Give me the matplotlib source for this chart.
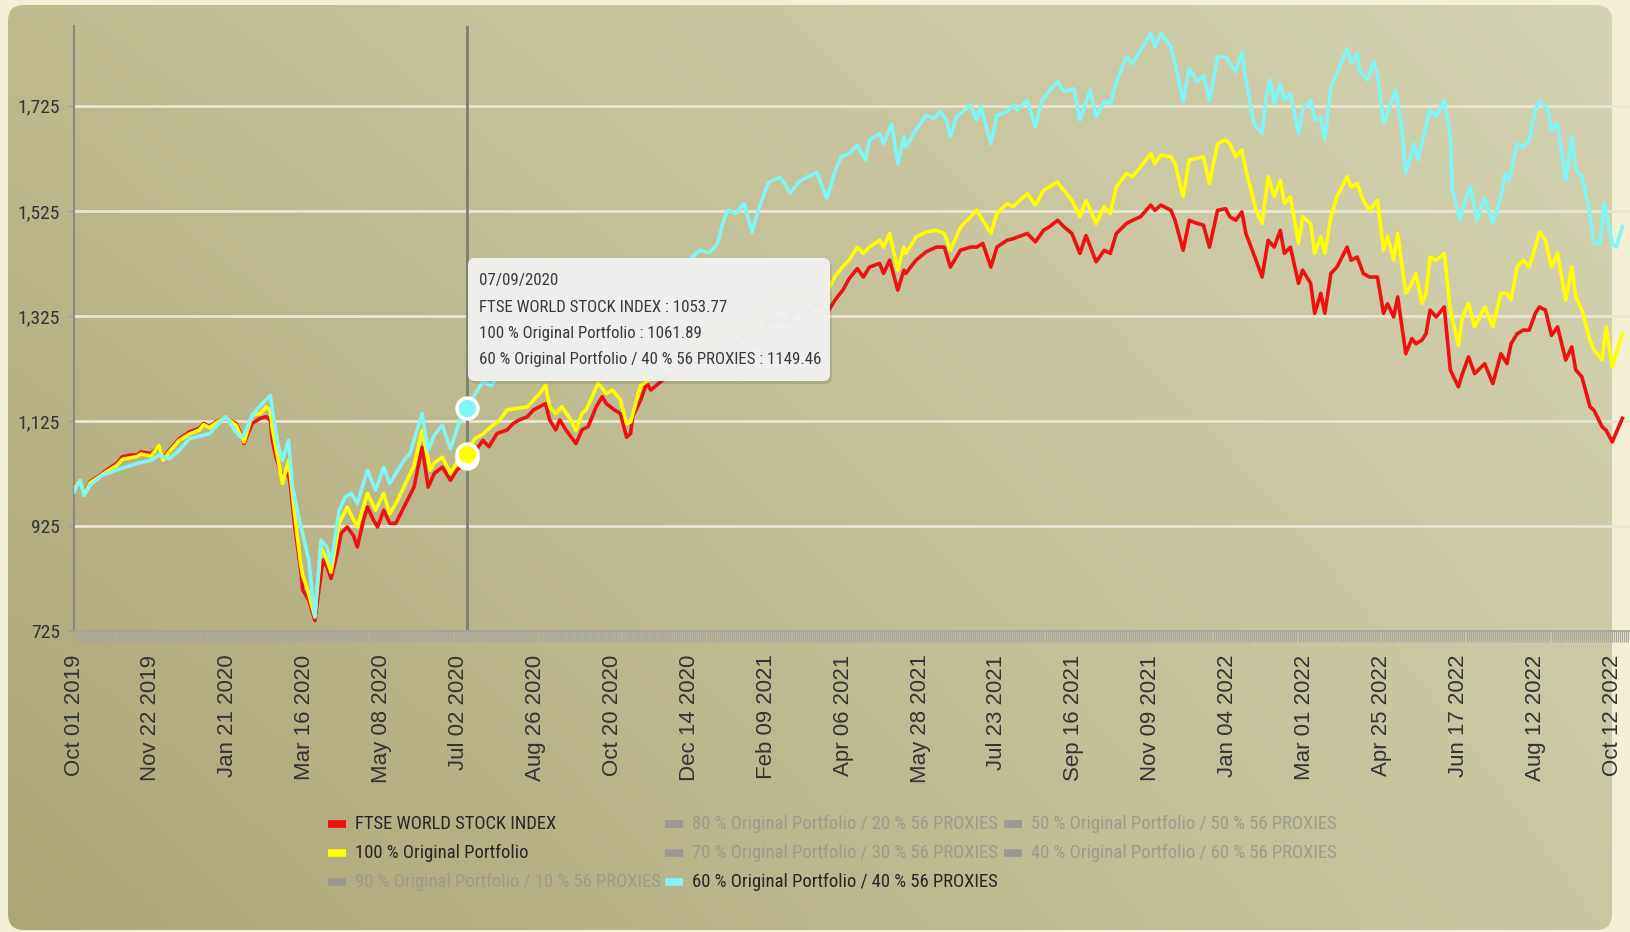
import numpy as np
import matplotlib
matplotlib.use("Agg")
import matplotlib.pyplot as plt
from matplotlib import font_manager
from matplotlib.patches import FancyBboxPatch
from matplotlib.ticker import MultipleLocator, FixedLocator, FixedFormatter

# ---------------- data ----------------
date_labels = ["Oct 01 2019", "Nov 22 2019", "Jan 21 2020", "Mar 16 2020", "May 08 2020",
               "Jul 02 2020", "Aug 26 2020", "Oct 20 2020", "Dec 14 2020", "Feb 09 2021",
               "Apr 06 2021", "May 28 2021", "Jul 23 2021", "Sep 16 2021", "Nov 09 2021",
               "Jan 04 2022", "Mar 01 2022", "Apr 25 2022", "Jun 17 2022", "Aug 12 2022",
               "Oct 12 2022"]
label_step = 38          # trading days between labelled dates
y_ticks = [725, 925, 1125, 1325, 1525, 1725]

# FTSE WORLD STOCK INDEX (trading-day index, value)
ftse_x = [0, 3, 5, 8, 13, 16, 21, 24, 28, 31, 33, 38, 42, 44, 47, 52, 57, 62, 64, 67,
          70, 75, 80, 82, 84, 88, 92, 95, 97, 98, 100, 103, 106, 107, 109, 112, 113, 116, 119, 121,
          123, 125, 127, 130, 132, 135, 138, 140, 143, 145, 148, 150, 153, 156, 159, 163, 168, 172, 175, 178,
          182, 186, 189, 191, 194, 198, 202, 205, 209, 214, 217, 220, 224, 227, 230, 233, 235, 238, 240, 243,
          248, 251, 254, 258, 261, 263, 267, 270, 273, 275, 276, 280, 283, 285, 290, 295, 300, 305, 310, 315,
          320, 324, 328, 332, 336, 339, 343, 348, 352, 356, 360, 364, 368, 372, 376, 380, 383, 387, 390, 393,
          398, 400, 403, 407, 410, 411, 416, 421, 426, 430, 433, 438, 443, 446, 449, 453, 456, 461, 464, 471,
          475, 479, 482, 486, 489, 493, 497, 500, 505, 509, 512, 515, 520, 523, 527, 532, 534, 537, 542, 544,
          548, 551, 555, 558, 561, 565, 569, 571, 574, 577, 579, 584, 587, 590, 593, 596, 598, 601, 605, 607,
          611, 613, 616, 618, 621, 624, 629, 631, 634, 637, 640, 644, 647, 649, 652, 654, 658, 661, 663, 666,
          668, 670, 673, 677, 680, 684, 686, 689, 692, 697, 701, 705, 708, 710, 713, 716, 719, 722, 724, 727,
          730, 733, 737, 740, 742, 745, 749, 751, 755, 757, 760, 765]
ftse_y = [995, 1012, 987, 1009, 1022, 1031, 1044, 1057, 1060, 1060, 1066, 1063, 1076, 1053, 1069, 1091, 1104, 1111, 1120, 1114,
          1123, 1130, 1120, 1104, 1082, 1120, 1130, 1133, 1126, 1088, 1053, 1018, 1025, 999, 926, 841, 803, 784, 745, 803,
          860, 847, 825, 872, 911, 923, 907, 885, 936, 961, 936, 923, 955, 930, 930, 961, 999, 1075, 999, 1025,
          1037, 1012, 1031, 1037, 1054, 1066, 1088, 1076, 1101, 1108, 1120, 1127, 1133, 1146, 1152, 1158, 1127, 1108, 1127, 1108,
          1082, 1108, 1114, 1152, 1171, 1158, 1146, 1139, 1094, 1101, 1133, 1165, 1197, 1184, 1200, 1215, 1225, 1240, 1232, 1255,
          1270, 1285, 1275, 1290, 1265, 1285, 1310, 1320, 1310, 1330, 1340, 1335, 1350, 1330, 1355, 1375, 1396, 1415, 1399, 1418,
          1425, 1406, 1431, 1374, 1412, 1406, 1431, 1447, 1456, 1456, 1418, 1450, 1456, 1456, 1463, 1418, 1456, 1469, 1472, 1482,
          1466, 1488, 1495, 1507, 1495, 1482, 1444, 1478, 1428, 1450, 1444, 1482, 1501, 1507, 1514, 1536, 1526, 1536, 1526, 1507,
          1450, 1507, 1501, 1498, 1456, 1526, 1529, 1514, 1507, 1523, 1482, 1431, 1399, 1469, 1456, 1488, 1444, 1456, 1387, 1412,
          1387, 1330, 1368, 1330, 1406, 1418, 1456, 1431, 1437, 1406, 1399, 1399, 1330, 1348, 1323, 1361, 1253, 1282, 1272, 1279,
          1291, 1336, 1323, 1342, 1222, 1190, 1215, 1247, 1215, 1234, 1196, 1253, 1234, 1272, 1291, 1298, 1298, 1330, 1342, 1336,
          1288, 1304, 1241, 1266, 1222, 1209, 1152, 1145, 1114, 1107, 1085, 1130]

# 100 % Original Portfolio
orig_x = [0, 3, 5, 8, 13, 16, 21, 24, 28, 31, 33, 38, 42, 44, 47, 52, 57, 62, 64, 67,
          70, 75, 80, 82, 84, 88, 92, 95, 97, 98, 100, 103, 106, 107, 109, 112, 113, 115, 119, 122,
          125, 127, 131, 135, 140, 145, 149, 153, 156, 160, 163, 168, 172, 176, 178, 182, 186, 189, 191, 194,
          198, 202, 206, 210, 214, 219, 224, 230, 233, 235, 238, 241, 245, 248, 251, 253, 256, 259, 263, 266,
          270, 273, 275, 278, 280, 283, 290, 295, 300, 305, 310, 315, 320, 324, 328, 332, 336, 339, 343, 348,
          352, 356, 360, 364, 368, 372, 376, 380, 383, 387, 390, 393, 398, 400, 403, 407, 410, 411, 416, 421,
          426, 430, 433, 438, 443, 446, 449, 453, 456, 461, 464, 471, 475, 479, 482, 486, 489, 493, 497, 500,
          505, 509, 512, 515, 520, 523, 527, 532, 534, 537, 542, 544, 548, 551, 555, 558, 561, 565, 569, 571,
          574, 577, 579, 584, 587, 590, 593, 596, 598, 601, 605, 607, 611, 613, 616, 618, 621, 624, 629, 631,
          634, 637, 640, 644, 647, 649, 652, 654, 658, 661, 663, 666, 668, 670, 673, 677, 680, 684, 686, 689,
          692, 697, 701, 705, 708, 710, 713, 716, 719, 722, 724, 727, 730, 733, 737, 740, 742, 745, 749, 751,
          755, 757, 760, 765]
orig_y = [995, 1012, 985, 1007, 1020, 1028, 1040, 1052, 1055, 1057, 1062, 1058, 1078, 1050, 1066, 1088, 1100, 1108, 1118, 1112,
          1121, 1131, 1117, 1100, 1085, 1136, 1139, 1152, 1145, 1110, 1069, 1006, 1050, 1020, 948, 853, 830, 809, 752, 885,
          860, 837, 930, 961, 923, 987, 955, 987, 948, 975, 999, 1040, 1107, 1031, 1045, 1056, 1025, 1045, 1056, 1062,
          1091, 1100, 1114, 1125, 1146, 1149, 1152, 1177, 1193, 1152, 1139, 1152, 1130, 1107, 1139, 1146, 1171, 1197, 1177, 1184,
          1165, 1120, 1123, 1165, 1193, 1200, 1220, 1235, 1250, 1268, 1260, 1285, 1300, 1318, 1305, 1322, 1295, 1318, 1345, 1355,
          1345, 1365, 1378, 1372, 1390, 1370, 1400, 1420, 1431, 1456, 1444, 1456, 1469, 1456, 1482, 1412, 1456, 1444, 1475, 1485,
          1488, 1482, 1450, 1494, 1514, 1526, 1507, 1482, 1520, 1539, 1533, 1558, 1536, 1564, 1571, 1580, 1564, 1545, 1514, 1545,
          1501, 1533, 1520, 1571, 1596, 1590, 1609, 1634, 1615, 1631, 1628, 1615, 1552, 1622, 1625, 1628, 1577, 1653, 1660, 1653,
          1628, 1641, 1603, 1526, 1501, 1590, 1552, 1583, 1539, 1552, 1463, 1514, 1501, 1444, 1476, 1444, 1514, 1552, 1590, 1571,
          1577, 1545, 1526, 1545, 1450, 1476, 1431, 1482, 1368, 1387, 1406, 1349, 1368, 1437, 1431, 1444, 1336, 1269, 1323, 1349,
          1304, 1342, 1304, 1368, 1368, 1355, 1418, 1431, 1418, 1456, 1485, 1469, 1418, 1444, 1355, 1418, 1361, 1336, 1279, 1260,
          1241, 1304, 1228, 1291]

# 60 % Original Portfolio / 40 % 56 PROXIES
mix_x = [0, 3, 5, 8, 14, 23, 31, 38, 42, 47, 52, 57, 64, 67, 70, 75, 80, 82, 84, 88,
         93, 97, 98, 101, 103, 106, 108, 111, 113, 116, 119, 122, 125, 127, 131, 134, 137, 140, 145, 149,
         153, 156, 163, 166, 172, 175, 178, 182, 186, 191, 194, 198, 202, 206, 214, 220, 227, 233, 236, 240,
         243, 248, 252, 258, 262, 267, 271, 274, 278, 283, 288, 293, 298, 304, 309, 314, 318, 321, 323, 327,
         331, 335, 338, 343, 349, 354, 358, 362, 367, 372, 376, 379, 383, 387, 391, 393, 398, 400, 404, 407,
         410, 411, 416, 421, 425, 428, 431, 433, 436, 441, 443, 446, 448, 453, 456, 461, 464, 466, 471, 475,
         478, 482, 486, 489, 494, 497, 499, 502, 505, 509, 512, 515, 520, 523, 527, 532, 534, 537, 542, 544,
         548, 551, 555, 558, 561, 565, 569, 571, 574, 577, 579, 583, 587, 589, 591, 593, 596, 598, 601, 605,
         607, 611, 613, 616, 618, 621, 624, 629, 631, 634, 635, 639, 642, 644, 647, 650, 653, 656, 658, 662,
         664, 667, 670, 673, 677, 680, 681, 685, 686, 690, 693, 697, 701, 705, 707, 709, 713, 716, 719, 722,
         724, 728, 730, 733, 737, 740, 742, 745, 749, 751, 754, 756, 760, 762, 765]
mix_y = [990, 1012, 983, 1003, 1022, 1034, 1044, 1050, 1060, 1053, 1069, 1091, 1098, 1101, 1114, 1133, 1104, 1095, 1098, 1136,
         1158, 1174, 1145, 1076, 1050, 1088, 999, 942, 910, 860, 752, 898, 885, 853, 955, 980, 987, 968, 1031, 993,
         1037, 1006, 1050, 1063, 1139, 1069, 1098, 1117, 1072, 1130, 1149, 1175, 1200, 1192, 1230, 1245, 1265, 1285, 1255, 1262,
         1245, 1220, 1250, 1290, 1300, 1290, 1280, 1250, 1300, 1350, 1370, 1385, 1410, 1431, 1450, 1445, 1463, 1507, 1526, 1520,
         1539, 1485, 1525, 1579, 1589, 1559, 1580, 1589, 1598, 1549, 1600, 1628, 1634, 1650, 1622, 1660, 1672, 1653, 1691, 1615,
         1666, 1647, 1679, 1707, 1701, 1714, 1698, 1666, 1704, 1720, 1726, 1698, 1723, 1653, 1707, 1714, 1726, 1717, 1736, 1685,
         1733, 1755, 1771, 1752, 1758, 1698, 1720, 1755, 1704, 1733, 1729, 1771, 1818, 1806, 1831, 1863, 1837, 1863, 1837, 1806,
         1733, 1796, 1771, 1783, 1736, 1818, 1818, 1806, 1790, 1828, 1774, 1691, 1672, 1742, 1774, 1729, 1767, 1736, 1749, 1672,
         1717, 1736, 1698, 1704, 1660, 1761, 1787, 1834, 1806, 1825, 1793, 1774, 1809, 1787, 1691, 1723, 1755, 1685, 1596, 1653,
         1622, 1672, 1717, 1704, 1736, 1666, 1565, 1507, 1529, 1571, 1507, 1549, 1501, 1552, 1596, 1583, 1653, 1647, 1660, 1717,
         1733, 1720, 1679, 1691, 1583, 1666, 1603, 1590, 1520, 1463, 1463, 1539, 1463, 1456, 1495]

series_names = ["FTSE WORLD STOCK INDEX", "100 % Original Portfolio",
                "60 % Original Portfolio / 40 % 56 PROXIES"]
series_colors = ["#ee1111", "#ffff00", "#80f6f6"]

hover_index = 194
hover_date = "07/09/2020"
hover_values = [1053.77, 1061.89, 1149.46]

legend_labels = ["FTSE WORLD STOCK INDEX", "100 % Original Portfolio",
                 "90 % Original Portfolio / 10 % 56 PROXIES",
                 "80 % Original Portfolio / 20 % 56 PROXIES",
                 "70 % Original Portfolio / 30 % 56 PROXIES",
                 "60 % Original Portfolio / 40 % 56 PROXIES",
                 "50 % Original Portfolio / 50 % 56 PROXIES",
                 "40 % Original Portfolio / 60 % 56 PROXIES"]
legend_colors = ["#ee1111", "#ffff00", None, None, None, "#80f6f6", None, None]

# ---------------- fonts ----------------
avail = {f.name for f in font_manager.fontManager.ttflist}
def pick(cands):
    for c in cands:
        if c in avail:
            return c
    return "DejaVu Sans"
NARROW = pick(["Liberation Sans Narrow", "Roboto Condensed", "Open Sans Condensed",
               "DejaVu Sans Condensed", "Liberation Sans"])
REGULAR = pick(["Liberation Sans", "Arimo", "DejaVu Sans"])
narrow_scale = 1.0 if NARROW in ("Liberation Sans Narrow", "Roboto Condensed",
                                 "Open Sans Condensed", "DejaVu Sans Condensed") else 0.85

# ---------------- figure ----------------
W, H = 1630, 932
fig = plt.figure(figsize=(W / 100, H / 100), dpi=100)
fig.patch.set_facecolor("#f2efd4")

# background panel with gradient
bg = fig.add_axes([0, 0, 1, 1], zorder=0)
bg.set_xlim(0, W)
bg.set_ylim(H, 0)
bg.axis("off")
gy, gx = np.mgrid[0:1:60j, 0:1:60j]
tl = np.array([191, 187, 143]) / 255
tr = np.array([212, 211, 178]) / 255
bl = np.array([173, 166, 119]) / 255
br = np.array([201, 199, 160]) / 255
grad = ((1 - gx)[..., None] * (1 - gy)[..., None] * tl + gx[..., None] * (1 - gy)[..., None] * tr
        + (1 - gx)[..., None] * gy[..., None] * bl + gx[..., None] * gy[..., None] * br)
panel = FancyBboxPatch((8, 5), 1604, 925, boxstyle="round,pad=0,rounding_size=16",
                       fc="none", ec="none", transform=bg.transData)
bg.add_patch(panel)
im = bg.imshow(grad, extent=(8, 1612, 930, 5), interpolation="bilinear", aspect="auto")
im.set_clip_path(panel)
bg.set_xlim(0, W)
bg.set_ylim(H, 0)

# main axes
L, R, T, B = 74, 1630, 26, 631
ax = fig.add_axes([L / W, 1 - B / H, (R - L) / W, (B - T) / H], zorder=1)
ax.patch.set_visible(False)
px_per_day = 2.024
ax.set_xlim(0, (R - L) / px_per_day)
ax.set_ylim(725, 1877)

for yv in y_ticks[1:]:
    ax.axhline(yv, color="#e9e6d2", lw=2, zorder=1)

ax.axvline(hover_index, color="#7e7e78", lw=2, zorder=2)

for xs, ys, c in zip([ftse_x, orig_x, mix_x], [ftse_y, orig_y, mix_y], series_colors):
    ax.plot(xs, ys, color=c, lw=2.6, zorder=3, solid_joinstyle="round")

marker_fill = ["white", series_colors[1], series_colors[2]]
for v, c in zip(hover_values, marker_fill):
    ax.plot([hover_index], [v], "o", ms=15, mfc=c, mec="white", mew=2.5, zorder=6)

for s in ["top", "right"]:
    ax.spines[s].set_visible(False)
ax.spines["left"].set_color("#8a8a82")
ax.spines["left"].set_linewidth(1.5)
ax.spines["bottom"].set_color("#a3a39a")
ax.spines["bottom"].set_linewidth(1.2)

ax.yaxis.set_major_locator(FixedLocator(y_ticks))
ax.yaxis.set_major_formatter(FixedFormatter([f"{v:,}" for v in y_ticks]))
ax.tick_params(axis="y", length=5, width=1, color="#a0a098", pad=5,
               labelsize=14 * narrow_scale, labelcolor="#333333")
for t in ax.get_yticklabels():
    t.set_fontfamily(NARROW)

xt = [i * label_step for i in range(len(date_labels))]
ax.xaxis.set_major_locator(FixedLocator(xt))
ax.xaxis.set_major_formatter(FixedFormatter(date_labels))
ax.xaxis.set_minor_locator(MultipleLocator(1))
ax.tick_params(axis="x", which="both", length=8, width=0.9, color="#a8a89e")
ax.tick_params(axis="x", which="major", pad=9, labelsize=16, labelcolor="#333333",
               labelrotation=90)
for t in ax.get_xticklabels():
    t.set_fontfamily(REGULAR)

# overlay: tooltip + legend
ov = fig.add_axes([0, 0, 1, 1], zorder=5)
ov.set_xlim(0, W)
ov.set_ylim(H, 0)
ov.axis("off")
ov.patch.set_visible(False)

ov.add_patch(FancyBboxPatch((470, 261), 362, 123, boxstyle="round,pad=0,rounding_size=7",
                            fc=(0, 0, 0, 0.10), ec="none"))
ov.add_patch(FancyBboxPatch((468, 258), 362, 123, boxstyle="round,pad=0,rounding_size=7",
                            fc=(0.94, 0.94, 0.94, 0.98), ec="none"))
tip_lines = [hover_date] + [f"{n} : {v:.2f}" for n, v in zip(series_names, hover_values)]
for k, line in enumerate(tip_lines):
    ov.text(479, 281 + 26 * k, line, ha="left", va="center", fontsize=12.2 * narrow_scale,
            family=NARROW, color="#3a3a3a")

rows_y = [824, 852.5, 881.5]
cols_x = [328, 665, 1004]
for k, (lab, col) in enumerate(zip(legend_labels, legend_colors)):
    c, r = divmod(k, 3)
    x0, y0 = cols_x[c], rows_y[r]
    mc = col if col else "#9a9a92"
    tc = "#262626" if col else "#9b9b8c"
    ov.plot([x0, x0 + 18], [y0, y0], color=mc, lw=5.5, solid_capstyle="butt")
    ov.text(x0 + 27, y0, lab, ha="left", va="center", fontsize=13.4 * narrow_scale,
            family=NARROW, color=tc)

fig.savefig("out.png", dpi=100, facecolor=fig.get_facecolor())
